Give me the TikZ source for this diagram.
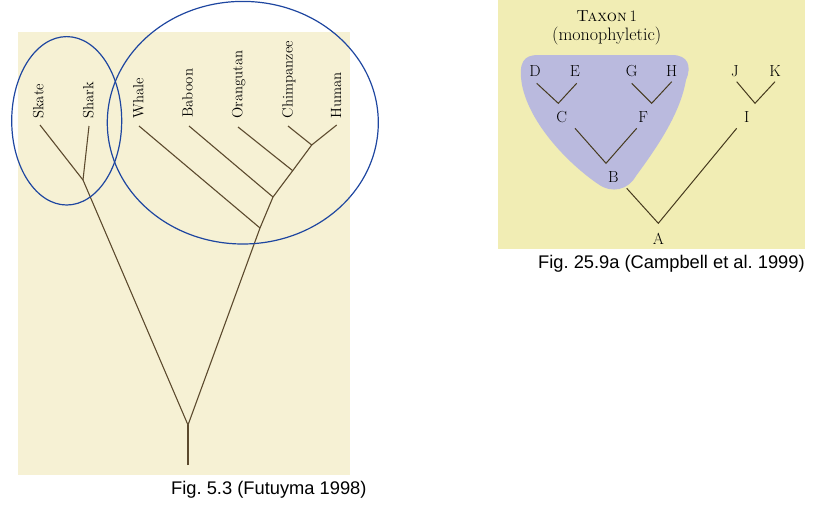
\documentclass[tikz,border=0pt]{standalone}
\usepackage{fontspec}
\newfontfamily\capfont{Liberation Sans}
\definecolor{leftbg}{RGB}{246,241,212}
\definecolor{rightbg}{RGB}{241,237,180}
\definecolor{taxoncol}{RGB}{186,186,222}
\definecolor{treebrown}{RGB}{92,74,46}
\definecolor{treebrowntwo}{RGB}{70,58,30}
\definecolor{ellblue}{RGB}{30,70,160}
\frenchspacing
\begin{document}
\begin{tikzpicture}[x=1pt,y=-1pt,
  branch/.style={draw=treebrown, line width=1.1pt},
  rbranch/.style={draw=treebrowntwo, line width=1pt},
  clade/.style={draw=ellblue, line width=1.2pt},
  taxlabel/.style={rotate=90, anchor=base west, inner sep=0pt, font=\fontsize{14.8}{16}\selectfont},
  letter/.style={anchor=base, inner sep=0pt, font=\fontsize{16}{18}\selectfont},
  figcaption/.style={anchor=base west, inner sep=0pt, font=\capfont\fontsize{18.3}{20}\selectfont}]
\useasboundingbox (0,0) rectangle (827,514);
% backgrounds
\fill[leftbg] (18,32) rectangle (350,475);
\fill[rightbg] (498,0) rectangle (805,249);

% ---------- left tree ----------
\coordinate (rootb) at (188,465);
\coordinate (root) at (188,425);
\coordinate (sj) at (83,180);
\coordinate (skt) at (40,125);
\coordinate (sht) at (89,126);
\coordinate (wj) at (260,228);
\coordinate (wht) at (139,126);
\coordinate (bj) at (273,197);
\coordinate (bat) at (189,126);
\coordinate (oj) at (292.7,170.7);
\coordinate (ort) at (238,127);
\coordinate (hj) at (311.7,145);
\coordinate (cht) at (288,126);
\coordinate (hut) at (336.7,125);

\draw[branch] (rootb) -- (root);
\draw[branch] (root) -- (sj) -- (skt);
\draw[branch] (sj) -- (sht);
\draw[branch] (root) -- (wj) -- (bj) -- (oj) -- (hj) -- (hut);
\draw[branch] (wj) -- (wht);
\draw[branch] (bj) -- (bat);
\draw[branch] (oj) -- (ort);
\draw[branch] (hj) -- (cht);

\node[taxlabel] (skate) at (43.3,119) {Skate};
\node[taxlabel] (shark) at (93.3,119) {Shark};
\node[taxlabel] (whale) at (143.3,119) {Whale};
\node[taxlabel] (baboon) at (192.7,118) {Baboon};
\node[taxlabel] (orang) at (242.3,119) {Orangutan};
\node[taxlabel] (chimp) at (292.5,118.5) {Chimpanzee};
\node[taxlabel] (human) at (341,119) {Human};

\draw[clade] (66.7,120.8) ellipse [x radius=55pt, y radius=84.2pt];
\draw[clade] (242.8,122.7) ellipse [x radius=135.5pt, y radius=121.3pt];

\node[figcaption] (capl) at (171,494.3) {Fig. 5.3 (Futuyma 1998)};

% ---------- right tree ----------
\fill[taxoncol] (538,55) -- (672,55) .. controls (688,55) and (692,66) .. (686,80)
  .. controls (680,115) and (655,150) .. (636,176)
  .. controls (628,190) and (612,194) .. (598,184)
  .. controls (570,165) and (530,125) .. (522,85)
  .. controls (518,62) and (524,55) .. (538,55) -- cycle;

\node[letter] (tax) at (606.7,21.7) {\textsc{Taxon}\,1};
\node[letter, font=\fontsize{18}{20}\selectfont] (mono) at (606.7,40.7) {(monophyletic)};

\node[letter] (D) at (535,76) {D};
\node[letter] (E) at (575,76) {E};
\node[letter] (G) at (631.7,76) {G};
\node[letter] (H) at (671.7,76) {H};
\node[letter] (J) at (735,76) {J};
\node[letter] (K) at (775,76) {K};
\node[letter] (C) at (561.7,122.7) {C};
\node[letter] (F) at (643.3,122.7) {F};
\node[letter] (I) at (746.7,122.7) {I};
\node[letter] (B) at (613.3,182.7) {B};
\node[letter] (A) at (658.3,244.3) {A};

\coordinate (dE) at (536.7,83.3);
\coordinate (cj) at (558.3,103.3);
\coordinate (eE) at (576.7,83.3);
\coordinate (gE) at (631.7,83.3);
\coordinate (fj) at (651.7,103.3);
\coordinate (hE) at (671.7,81.7);
\coordinate (jE) at (736.7,81.7);
\coordinate (ij) at (755,103.3);
\coordinate (kE) at (775,81.7);
\coordinate (cE) at (575,128.3);
\coordinate (bjr) at (606,163.3);
\coordinate (fE) at (636.7,128.3);
\coordinate (bE) at (626.7,188.3);
\coordinate (aj) at (658.3,223.3);
\coordinate (iE) at (736.7,128.3);

\draw[rbranch] (dE) -- (cj) -- (eE);
\draw[rbranch] (gE) -- (fj) -- (hE);
\draw[rbranch] (jE) -- (ij) -- (kE);
\draw[rbranch] (cE) -- (bjr) -- (fE);
\draw[rbranch] (bE) -- (aj) -- (iE);

\node[figcaption] (capr) at (538,268.3) {Fig. 25.9a (Campbell et al. 1999)};
\end{tikzpicture}
\end{document}
